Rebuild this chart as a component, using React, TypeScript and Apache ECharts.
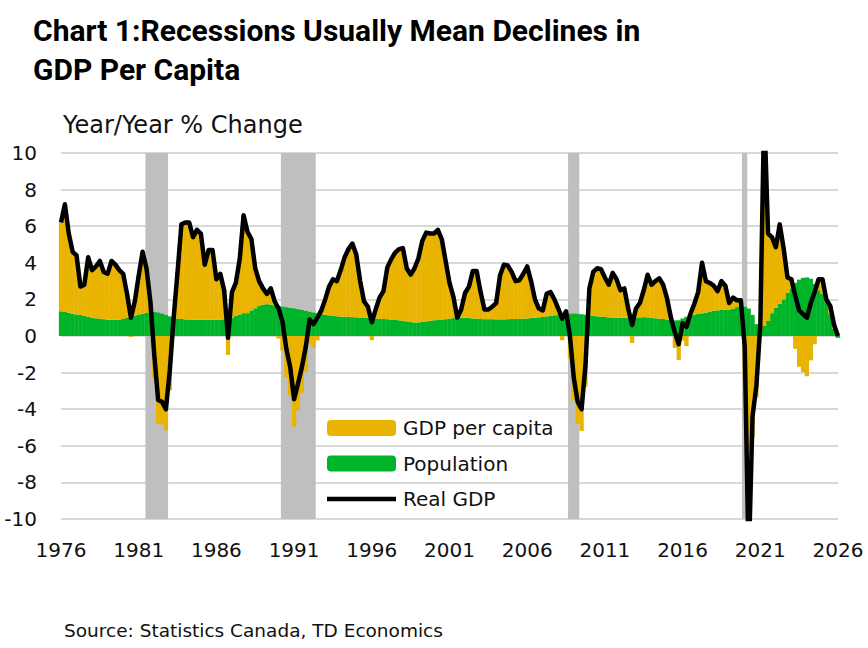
import React, { useEffect, useRef } from "react";
import * as echarts from "echarts";

// Quarterly year/year % change, starting 1976Q1 (one value per quarter)
const START_YEAR = 1976;

const realGdp = [
  6.2, 7.2, 5.6, 4.6, // 1976
  4.4, 2.7, 2.8, 4.3, // 1977
  3.6, 3.8, 4.1, 3.5, // 1978
  3.4, 4.1, 3.9, 3.6, // 1979
  3.4, 2.3, 1.0, 1.9, // 1980
  3.3, 4.6, 3.7, 1.9, // 1981
  -1.0, -3.5, -3.6, -4.0, // 1982
  -1.9, 1.0, 3.5, 6.1, // 1983
  6.2, 6.2, 5.4, 5.8, // 1984
  5.6, 3.9, 4.7, 4.7, // 1985
  3.1, 3.4, 2.5, -0.1, // 1986
  2.4, 2.9, 4.2, 6.6, // 1987
  5.7, 5.3, 3.7, 3.0, // 1988
  2.6, 2.3, 2.6, 1.9, // 1989
  1.5, 0.8, -0.7, -1.7, // 1990
  -3.45, -2.6, -1.7, -0.6, // 1991
  0.9, 0.65, 1.0, 1.4, // 1992
  2.0, 2.7, 3.1, 3.0, // 1993
  3.6, 4.3, 4.75, 5.05, // 1994
  4.45, 3.0, 1.9, 1.6, // 1995
  0.75, 1.45, 2.1, 2.45, // 1996
  3.75, 4.2, 4.55, 4.75, // 1997
  4.8, 3.7, 3.35, 3.7, // 1998
  4.25, 5.2, 5.65, 5.6, // 1999
  5.6, 5.8, 5.3, 4.1, // 2000
  2.9, 2.15, 1.0, 1.45, // 2001
  2.35, 2.7, 3.55, 3.55, // 2002
  2.4, 1.45, 1.45, 1.6, // 2003
  1.8, 3.3, 3.9, 3.85, // 2004
  3.5, 3.0, 3.05, 3.4, // 2005
  3.8, 3.0, 2.0, 1.5, // 2006
  1.4, 2.3, 2.4, 2.0, // 2007
  1.5, 0.95, 1.35, 0.0, // 2008
  -2.3, -3.6, -4.0, -1.6, // 2009
  2.6, 3.5, 3.7, 3.65, // 2010
  3.2, 2.8, 3.45, 3.1, // 2011
  2.5, 2.6, 1.5, 0.6, // 2012
  1.5, 1.8, 2.5, 3.35, // 2013
  2.8, 3.0, 3.15, 2.8, // 2014
  2.05, 1.0, 0.2, -0.45, // 2015
  0.7, 0.5, 1.2, 1.75, // 2016
  2.4, 4.0, 3.0, 2.9, // 2017
  2.75, 2.45, 3.0, 2.75, // 2018
  1.8, 2.1, 1.95, 1.95, // 2019
  -0.6, -12.5, -4.4, -2.7, // 2020
  0.6, 12.4, 5.6, 5.4, // 2021
  4.85, 6.1, 4.8, 3.2, // 2022
  3.1, 2.2, 1.4, 1.2, // 2023
  1.0, 1.8, 2.4, 3.1, // 2024
  3.1, 2.0, 1.65, 0.6, // 2025
  0.0, // 2026
];

const population = [
  1.35, 1.32, 1.27, 1.22, // 1976
  1.18, 1.15, 1.1, 1.05, // 1977
  1.0, 0.97, 0.94, 0.92, // 1978
  0.9, 0.88, 0.88, 0.89, // 1979
  0.93, 0.99, 1.06, 1.12, // 1980
  1.18, 1.22, 1.26, 1.28, // 1981
  1.31, 1.28, 1.22, 1.15, // 1982
  1.07, 1.0, 0.96, 0.93, // 1983
  0.91, 0.9, 0.9, 0.89, // 1984
  0.89, 0.89, 0.89, 0.89, // 1985
  0.89, 0.9, 0.91, 0.93, // 1986
  1.0, 1.09, 1.18, 1.25, // 1987
  1.25, 1.4, 1.52, 1.64, // 1988
  1.72, 1.74, 1.72, 1.68, // 1989
  1.64, 1.6, 1.57, 1.53, // 1990
  1.5, 1.46, 1.42, 1.37, // 1991
  1.32, 1.28, 1.24, 1.2, // 1992
  1.16, 1.13, 1.1, 1.08, // 1993
  1.06, 1.05, 1.04, 1.03, // 1994
  1.02, 1.01, 1.0, 1.0, // 1995
  0.98, 0.96, 0.95, 0.93, // 1996
  0.92, 0.9, 0.88, 0.86, // 1997
  0.83, 0.8, 0.76, 0.74, // 1998
  0.74, 0.77, 0.8, 0.83, // 1999
  0.86, 0.88, 0.9, 0.92, // 2000
  0.95, 0.98, 1.0, 1.0, // 2001
  1.0, 0.98, 0.96, 0.94, // 2002
  0.93, 0.92, 0.92, 0.92, // 2003
  0.91, 0.91, 0.91, 0.92, // 2004
  0.93, 0.93, 0.94, 0.95, // 2005
  0.96, 0.98, 1.0, 1.02, // 2006
  1.04, 1.07, 1.1, 1.13, // 2007
  1.16, 1.18, 1.2, 1.22, // 2008
  1.22, 1.21, 1.19, 1.16, // 2009
  1.12, 1.1, 1.08, 1.06, // 2010
  1.04, 1.02, 1.01, 1.0, // 2011
  1.0, 0.99, 0.98, 0.98, // 2012
  1.0, 1.02, 1.03, 1.02, // 2013
  1.0, 0.97, 0.95, 0.93, // 2014
  0.9, 0.87, 0.85, 0.86, // 2015
  0.96, 1.05, 1.13, 1.17, // 2016
  1.2, 1.24, 1.28, 1.33, // 2017
  1.38, 1.4, 1.42, 1.43, // 2018
  1.45, 1.5, 1.58, 1.64, // 2019
  1.6, 1.5, 1.15, 0.65, // 2020
  0.36, 0.55, 0.82, 1.25, // 2021
  1.55, 1.76, 2.0, 2.36, // 2022
  2.6, 2.9, 3.08, 3.18, // 2023
  3.2, 3.13, 2.85, 2.5, // 2024
  2.3, 2.0, 1.2, 0.4, // 2025
  -0.1, // 2026
];

const gdpPerCapita = [
  4.85, 5.88, 4.33, 3.38, // 1976
  3.22, 1.55, 1.7, 3.25, // 1977
  2.6, 2.83, 3.16, 2.58, // 1978
  2.5, 3.22, 3.02, 2.71, // 1979
  2.47, 1.31, -0.06, 0.78, // 1980
  2.12, 3.38, 2.44, 0.62, // 1981
  -2.31, -4.78, -4.82, -5.15, // 1982
  -2.97, 0.0, 2.54, 5.17, // 1983
  5.29, 5.3, 4.5, 4.91, // 1984
  4.71, 3.01, 3.81, 3.81, // 1985
  2.21, 2.5, 1.59, -1.03, // 1986
  1.4, 1.81, 3.02, 5.35, // 1987
  4.45, 3.9, 2.18, 1.36, // 1988
  0.88, 0.56, 0.88, 0.22, // 1989
  -0.14, -0.8, -2.27, -3.23, // 1990
  -4.95, -4.06, -3.12, -1.97, // 1991
  -0.42, -0.63, -0.24, 0.2, // 1992
  0.84, 1.57, 2.0, 1.92, // 1993
  2.54, 3.25, 3.71, 4.02, // 1994
  3.43, 1.99, 0.9, 0.6, // 1995
  -0.23, 0.49, 1.15, 1.52, // 1996
  2.83, 3.3, 3.67, 3.89, // 1997
  3.97, 2.9, 2.59, 2.96, // 1998
  3.51, 4.43, 4.85, 4.77, // 1999
  4.74, 4.92, 4.4, 3.18, // 2000
  1.95, 1.17, 0.0, 0.45, // 2001
  1.35, 1.72, 2.59, 2.61, // 2002
  1.47, 0.53, 0.53, 0.68, // 2003
  0.89, 2.39, 2.99, 2.93, // 2004
  2.57, 2.07, 2.11, 2.45, // 2005
  2.84, 2.02, 1.0, 0.48, // 2006
  0.36, 1.23, 1.3, 0.87, // 2007
  0.34, -0.23, 0.15, -1.22, // 2008
  -3.52, -4.81, -5.19, -2.76, // 2009
  1.48, 2.4, 2.62, 2.59, // 2010
  2.16, 1.78, 2.44, 2.1, // 2011
  1.5, 1.61, 0.52, -0.38, // 2012
  0.5, 0.78, 1.47, 2.33, // 2013
  1.8, 2.03, 2.2, 1.87, // 2014
  1.15, 0.13, -0.65, -1.31, // 2015
  -0.26, -0.55, 0.07, 0.58, // 2016
  1.2, 2.76, 1.72, 1.57, // 2017
  1.37, 1.05, 1.58, 1.32, // 2018
  0.35, 0.6, 0.37, 0.31, // 2019
  -2.2, -14.0, -5.55, -3.35, // 2020
  0.24, 11.85, 4.78, 4.15, // 2021
  3.3, 4.34, 2.8, 0.84, // 2022
  0.5, -0.7, -1.68, -1.98, // 2023
  -2.2, -1.33, -0.45, 0.6, // 2024
  0.8, 0.0, 0.45, 0.2, // 2025
  0.1, // 2026
];

// Recession periods, as [start, end] in fractional years
const recessions: [number, number][] = [
  [1981.43, 1982.89],
  [1990.15, 1992.39],
  [2008.63, 2009.35],
  [2019.82, 2020.16],
];

const X_MIN = 1976;
const X_MAX = 2026;
const LABEL_EVERY = 20; // quarters between year labels (5 years)
const Y_MIN = -10;
const Y_MAX = 10;
const Y_STEP = 2;

const TITLE = "Chart 1:Recessions Usually Mean Declines in\nGDP Per Capita";
const SUBTITLE = "Year/Year % Change";
const SOURCE = "Source: Statistics Canada, TD Economics";

const GOLD = "#e8b400";
const GREEN = "#00b42a";
const GREY = "#bfbfbf";
const TEXT = "#111111";
const FONT = "DejaVu Sans";

// Quarter categories: "1976Q1", "1976Q2", ...
const quarters = realGdp.map(
  (_, i) => `${START_YEAR + Math.floor(i / 4)}Q${(i % 4) + 1}`
);

export default function App() {
  const ref = useRef<HTMLDivElement>(null);

  useEffect(() => {
    if (!ref.current) return;
    const chart = echarts.init(ref.current, null, { renderer: "svg" });

    chart.setOption({
      animation: false,
      backgroundColor: "#ffffff",
      textStyle: { fontFamily: FONT },
      title: [
        {
          text: TITLE,
          left: 33,
          top: 11,
          padding: 0,
          textStyle: {
            fontFamily: "Roboto",
            fontWeight: 700,
            fontSize: 30,
            lineHeight: 39,
            color: "#000000",
          },
        },
        {
          text: SUBTITLE,
          left: 63,
          top: 113,
          padding: 0,
          textStyle: {
            fontFamily: FONT,
            fontWeight: "normal",
            fontSize: 24,
            color: TEXT,
          },
        },
        {
          text: SOURCE,
          left: 64,
          top: 621,
          padding: 0,
          textStyle: {
            fontFamily: FONT,
            fontWeight: "normal",
            fontSize: 18.5,
            color: TEXT,
          },
        },
      ],
      legend: {
        orient: "vertical",
        left: 327,
        top: 418,
        padding: 0,
        itemWidth: 69,
        itemHeight: 16,
        itemGap: 15.5,
        selectedMode: false,
        data: [
          { name: "GDP per capita", icon: "roundRect" },
          { name: "Population", icon: "roundRect" },
          { name: "Real GDP", icon: "path://M0,0L69,0L69,4.5L0,4.5Z" },
        ],
        textStyle: {
          fontFamily: FONT,
          fontSize: 20,
          color: TEXT,
          padding: [0, 0, 0, 2],
        },
      },
      grid: { left: 61, right: 30, top: 153, bottom: 129 },
      xAxis: [
        {
          type: "category",
          data: quarters,
          boundaryGap: false,
          axisLine: { show: false },
          axisTick: { show: false },
          splitLine: { show: false },
          axisLabel: {
            interval: (index: number) => index % LABEL_EVERY === 0,
            formatter: (v: string) => v.slice(0, 4),
            fontFamily: FONT,
            fontSize: 20,
            color: TEXT,
            margin: 21,
          },
        },
        {
          // continuous year scale used for shading recession periods
          type: "value",
          min: X_MIN,
          max: X_MAX,
          show: false,
        },
      ],
      yAxis: {
        type: "value",
        min: Y_MIN,
        max: Y_MAX,
        interval: Y_STEP,
        axisLine: { show: false },
        axisTick: { show: false },
        splitLine: { lineStyle: { color: "#d9d9d9", width: 2 } },
        axisLabel: {
          fontFamily: FONT,
          fontSize: 20,
          color: TEXT,
          margin: 24,
        },
      },
      series: [
        {
          name: "Recession",
          type: "line",
          xAxisIndex: 1,
          z: 1,
          symbol: "none",
          data: [],
          markArea: {
            silent: true,
            itemStyle: { color: GREY },
            data: recessions.map(([a, b]) => [{ xAxis: a }, { xAxis: b }]),
          },
        },
        {
          name: "Population",
          type: "bar",
          stack: "total",
          barWidth: 4.3,
          z: 2,
          itemStyle: { color: GREEN },
          data: population,
        },
        {
          name: "GDP per capita",
          type: "bar",
          stack: "total",
          barWidth: 4.3,
          z: 2,
          itemStyle: { color: GOLD },
          data: gdpPerCapita,
        },
        {
          name: "Real GDP",
          type: "line",
          z: 5,
          symbol: "none",
          showSymbol: false,
          lineStyle: { color: "#000000", width: 4.5, join: "round" },
          itemStyle: { color: "#000000" },
          data: realGdp,
        },
      ],
    });

    return () => chart.dispose();
  }, []);

  return (
    <div
      ref={ref}
      style={{ position: "absolute", left: 0, top: 0, width: 868, height: 648 }}
    />
  );
}
